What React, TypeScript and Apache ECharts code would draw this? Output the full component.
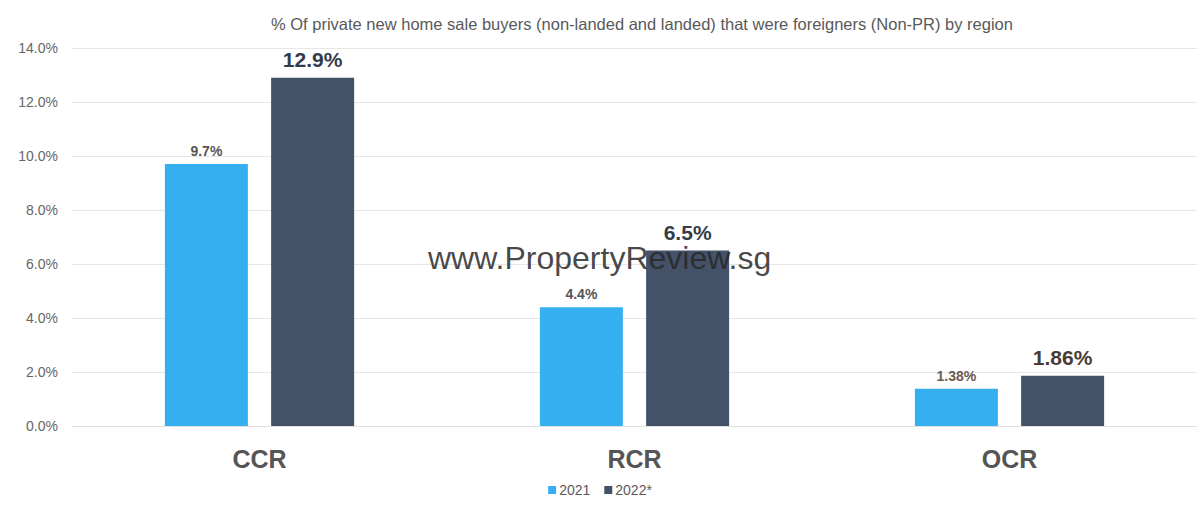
import React, { useEffect, useRef } from "react";
import * as echarts from "echarts";

const categories = ["CCR", "RCR", "OCR"];
const seriesNames = ["2021", "2022*"];
const values2021 = [9.7, 4.4, 1.38];
const values2022 = [12.9, 6.5, 1.86];
const labels2021 = ["9.7%", "4.4%", "1.38%"];
const labels2022 = ["12.9%", "6.5%", "1.86%"];
const labelColors2021 = ["#555555", "#555555", "#6b5a50"];
const labelColors2022 = ["#333d4a", "#333d4a", "#4a3c34"];
const titleText =
  "% Of private new home sale buyers (non-landed and landed) that were foreigners (Non-PR) by region";
const watermark = "www.PropertyReview.sg";

const FONT = "'Liberation Sans', Arial, sans-serif";

export default function App() {
  const ref = useRef<HTMLDivElement>(null);
  useEffect(() => {
    if (!ref.current) return;
    const chart = echarts.init(ref.current, undefined, { renderer: "svg" });
    chart.setOption({
      animation: false,
      backgroundColor: "#ffffff",
      textStyle: { fontFamily: FONT },
      title: {
        text: titleText,
        left: 266,
        top: 10,
        textStyle: { fontSize: 16.5, fontWeight: "normal", color: "#595959", fontFamily: FONT },
      },
      legend: {
        data: seriesNames,
        bottom: 13,
        left: "center",
        itemWidth: 8,
        itemHeight: 8,
        itemGap: 14,
        icon: "rect",
        textStyle: { fontSize: 14, color: "#595959", fontFamily: FONT, padding: [0, 0, 0, -2] },
      },
      grid: { left: 72, right: 3, top: 48, bottom: 89, containLabel: false },
      xAxis: {
        type: "category",
        data: categories,
        axisLine: { show: true, lineStyle: { color: "#e0e0e0" } },
        axisTick: { show: false },
        axisLabel: {
          fontSize: 25,
          fontWeight: "bold",
          color: "#555555",
          margin: 20,
          fontFamily: FONT,
        },
      },
      yAxis: {
        type: "value",
        min: 0,
        max: 14,
        interval: 2,
        axisLine: { show: false },
        axisTick: { show: false },
        splitLine: { lineStyle: { color: "#e6e6e6" } },
        axisLabel: {
          formatter: (v: number) => v.toFixed(1) + "%",
          fontSize: 14,
          color: "#666666",
          margin: 14,
          fontFamily: FONT,
        },
      },
      series: [
        {
          name: seriesNames[0],
          type: "bar",
          barWidth: 83,
          barGap: "28%",
          itemStyle: { color: "#36aff0" },
          data: values2021.map((v, i) => ({
            value: v,
            label: {
              show: true,
              position: "top",
              distance: 6,
              formatter: labels2021[i],
              fontSize: 14,
              fontWeight: "bold",
              color: labelColors2021[i],
              fontFamily: FONT,
            },
          })),
        },
        {
          name: seriesNames[1],
          type: "bar",
          barWidth: 83,
          itemStyle: { color: "#435169" },
          data: values2022.map((v, i) => ({
            value: v,
            label: {
              show: true,
              position: "top",
              distance: 8,
              formatter: labels2022[i],
              fontSize: 21,
              fontWeight: "bold",
              color: labelColors2022[i],
              fontFamily: FONT,
            },
          })),
        },
      ],
      graphic: [
        {
          type: "text",
          left: 428,
          top: 242,
          z: 100,
          style: {
            text: watermark,
            fontSize: 32,
            fontFamily: FONT,
            fill: "rgba(40,40,40,0.85)",
          },
        },
      ],
    });
    return () => chart.dispose();
  }, []);
  return (
    <div
      ref={ref}
      style={{ position: "fixed", left: 0, top: 0, width: 1200, height: 515 }}
    />
  );
}
